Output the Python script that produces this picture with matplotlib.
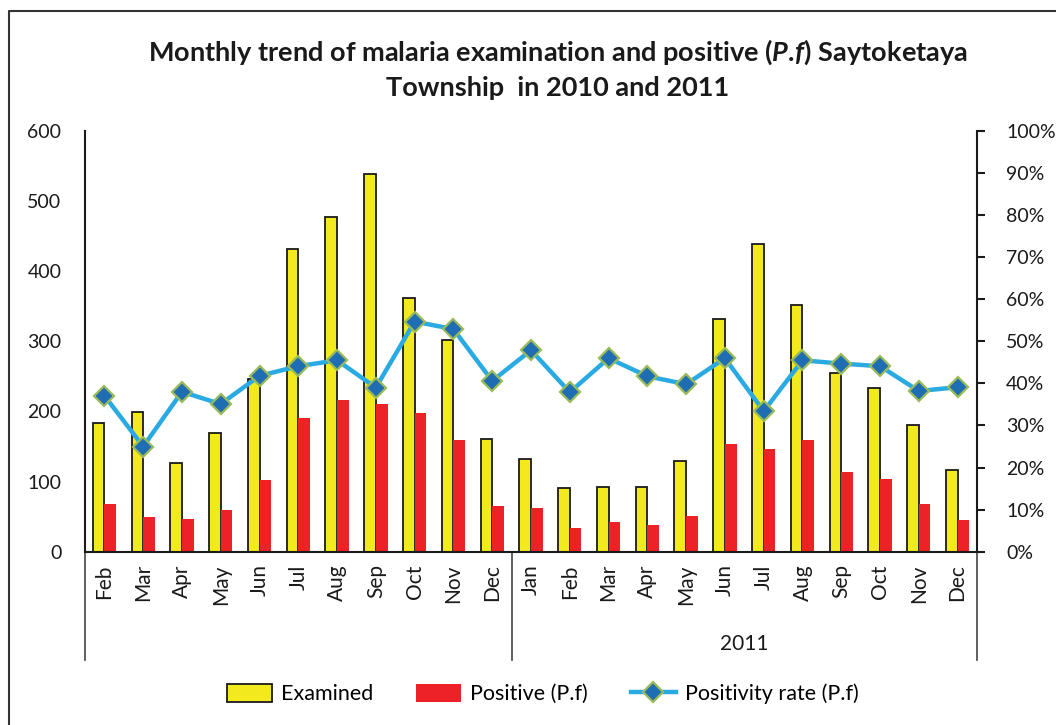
## Monthly trend of malaria examination and positive (P.f) ##

import matplotlib
matplotlib.use("Agg")
import matplotlib.pyplot as plt
from matplotlib.lines import Line2D
from matplotlib.ticker import PercentFormatter
import numpy as np

plt.rcParams['font.family'] = ['Lato', 'DejaVu Sans']
plt.rcParams['mathtext.fontset'] = 'custom'
plt.rcParams['mathtext.it'] = 'Lato:bold:italic'
plt.rcParams['mathtext.rm'] = 'Lato:bold'

## DATA ##
months = ["Feb", "Mar", "Apr", "May", "Jun", "Jul", "Aug", "Sep", "Oct", "Nov", "Dec",
          "Jan", "Feb", "Mar", "Apr", "May", "Jun", "Jul", "Aug", "Sep", "Oct", "Nov", "Dec"]
years = ["", "2011"]
year_sizes = [11, 12]

examined = [184, 199, 126, 170, 246, 431, 477, 538, 362, 302, 161,
            132, 91, 92, 92, 130, 332, 439, 352, 255, 233, 180, 116]
positive = [68, 49, 47, 59, 102, 190, 217, 210, 198, 160, 65,
            63, 34, 42, 38, 51, 153, 147, 160, 114, 103, 68, 45]
rate = [37.1, 25.0, 38.0, 35.1, 41.8, 44.1, 45.5, 39.0, 54.7, 52.9, 40.6,
        47.9, 37.9, 46.0, 41.7, 39.8, 46.0, 33.4, 45.5, 44.7, 44.1, 38.2, 39.1]

x = np.arange(len(months))
w = 0.3

fig = plt.figure(figsize=(10.56, 7.25), dpi=100)
ax = fig.add_axes([85/1056, 1 - 551.7/725, (977 - 85)/1056, 420.7/725])

## BARS ##
ax.bar(x - w/2, examined, w, color="#f2ea1c", edgecolor="#1a1a1a", linewidth=1.3, label="Examined")
ax.bar(x + w/2, positive, w, color="#ed2227", linewidth=0, label="Positive (P.f)")
ax.set_xlim(-0.5, len(months) - 0.5)
ax.set_ylim(0, 600)
ax.set_yticks(range(0, 601, 100))
ax.set_xticks(x)
ax.set_xticklabels(months, rotation=90, fontsize=15, color="#1a1a1a")
ax.tick_params(axis="x", length=0, pad=9)
ax.tick_params(axis="y", length=0, pad=17, labelsize=14, labelcolor="#1a1a1a")
for s in ["top", "right"]:
    ax.spines[s].set_visible(False)
for s in ["left", "bottom"]:
    ax.spines[s].set_color("#1a1a1a")
    ax.spines[s].set_linewidth(1.5)

## LINE ##
ax2 = ax.twinx()
ax2.plot(x, np.array(rate) / 100, color="#2aaae2", linewidth=3.2, marker="D", markersize=10.5,
         markerfacecolor="#1f6db3", markeredgecolor="#9bbb59", markeredgewidth=1.6,
         label="Positivity rate (P.f)")
ax2.set_ylim(0, 1)
ax2.set_yticks(np.arange(0, 1.01, 0.1))
ax2.yaxis.set_major_formatter(PercentFormatter(1.0, decimals=0))
ax2.tick_params(axis="y", direction="out", length=6, width=1.5, color="#1a1a1a",
                pad=15, labelsize=14, labelcolor="#1a1a1a")
for s in ["top", "left", "bottom"]:
    ax2.spines[s].set_visible(False)
ax2.spines["right"].set_color("#1a1a1a")
ax2.spines["right"].set_linewidth(1.5)

## YEAR GROUP SEPARATORS ##
tr = ax.get_xaxis_transform()
edges = np.concatenate([[0], np.cumsum(year_sizes)]) - 0.5
for e in edges:
    ax.plot([e, e], [0, -0.257], transform=tr, color="#444444", linewidth=1.2, clip_on=False)
start = 0
for yr, n in zip(years, year_sizes):
    ax.text(start + (n - 1) / 2, -0.219, yr, transform=tr, ha="center", va="center",
            fontsize=15, color="#1a1a1a")
    start += n

## TITLE ##
fig.text(0.528, 1 - 52/725, r"Monthly trend of malaria examination and positive ($\mathit{P.\!f}$) Saytoketaya",
         ha="center", va="center", fontsize=19.5, fontweight="bold", color="#1a1a1a")
fig.text(0.528, 1 - 88/725, "Township  in 2010 and 2011",
         ha="center", va="center", fontsize=19.5, fontweight="bold", color="#1a1a1a")

## LEGEND ##
h1, l1 = ax.get_legend_handles_labels()
h2, l2 = ax2.get_legend_handles_labels()
fig.legend(h1 + h2, l1 + l2, loc="center", bbox_to_anchor=(0.514, 1 - 694/725), ncol=3,
           frameon=False, fontsize=15.5, handlelength=2.1, handleheight=0.9,
           columnspacing=2.0, handletextpad=0.4)

## OUTER FRAME ##
fig.add_artist(Line2D([9/1056, 9/1056, 1.0], [0, 1 - 11/725, 1 - 11/725],
                      transform=fig.transFigure, color="#333333", linewidth=1.5))

fig.savefig("out.png", dpi=100)
